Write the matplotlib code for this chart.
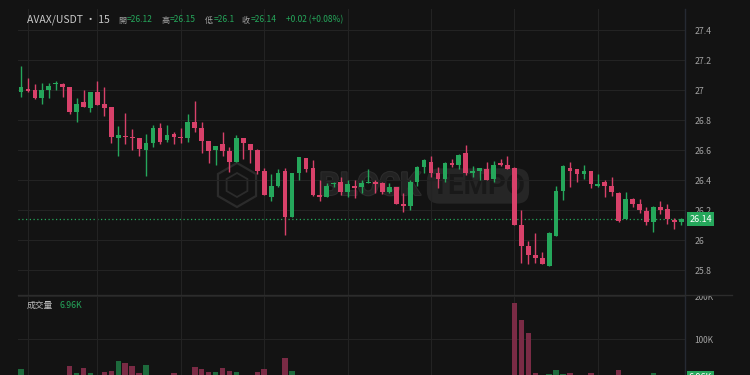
import matplotlib
matplotlib.use("Agg")
import matplotlib.pyplot as plt
import matplotlib.patheffects as pe
from matplotlib.lines import Line2D
from matplotlib.patches import Rectangle, RegularPolygon
import numpy as np

plt.rcParams["font.family"] = ["Noto Sans CJK TC", "DejaVu Sans"]

# 15 minute candles, AVAX/USDT
opens = [26.99, 27.005, 27.00, 26.95, 26.998, 27.04, 27.04, 27.018, 26.856, 26.918,
         26.878, 26.989, 26.907, 26.889, 26.678, 26.692, 26.69, 26.678, 26.60, 26.649,
         26.749, 26.667, 26.709, 26.689, 26.682, 26.789, 26.749, 26.658, 26.60, 26.638,
         26.591, 26.518, 26.678, 26.64, 26.60, 26.46, 26.289, 26.36, 26.46, 26.151,
         26.449, 26.549, 26.478, 26.30, 26.289, 26.373, 26.389, 26.318, 26.36, 26.351,
         26.382, 26.384, 26.382, 26.318, 26.351, 26.24, 26.229, 26.389, 26.489, 26.518,
         26.449, 26.407, 26.511, 26.50, 26.578, 26.449, 26.46, 26.471, 26.404, 26.511,
         26.50, 26.482, 26.10, 25.962, 25.90, 25.882, 25.829, 26.029, 26.329, 26.482,
         26.471, 26.438, 26.462, 26.362, 26.384, 26.36, 26.311, 26.14, 26.273, 26.24,
         26.193, 26.122, 26.222, 26.207, 26.133, 26.12]
highs = [27.16, 27.08, 27.04, 27.05, 27.05, 27.06, 27.05, 27.02, 26.95, 27.00,
         26.99, 27.06, 27.018, 26.889, 26.76, 26.85, 26.74, 26.678, 26.71, 26.767,
         26.78, 26.767, 26.72, 26.749, 26.84, 26.929, 26.789, 26.658, 26.629, 26.718,
         26.62, 26.70, 26.678, 26.64, 26.604, 26.478, 26.438, 26.471, 26.478, 26.449,
         26.556, 26.549, 26.533, 26.40, 26.378, 26.389, 26.422, 26.40, 26.40, 26.40,
         26.471, 26.40, 26.389, 26.382, 26.351, 26.311, 26.40, 26.493, 26.538, 26.56,
         26.484, 26.518, 26.538, 26.573, 26.633, 26.493, 26.482, 26.518, 26.529, 26.538,
         26.56, 26.489, 26.20, 25.996, 26.044, 25.922, 26.056, 26.36, 26.50, 26.518,
         26.471, 26.50, 26.462, 26.44, 26.40, 26.422, 26.318, 26.322, 26.278, 26.273,
         26.222, 26.229, 26.26, 26.24, 26.149, 26.15]
lows = [26.956, 26.99, 26.94, 26.91, 26.95, 27.00, 26.955, 26.84, 26.79, 26.889,
        26.856, 26.898, 26.83, 26.649, 26.56, 26.64, 26.60, 26.56, 26.43, 26.618,
        26.64, 26.656, 26.64, 26.644, 26.656, 26.718, 26.582, 26.511, 26.50, 26.56,
        26.451, 26.518, 26.538, 26.511, 26.44, 26.30, 26.262, 26.356, 26.033, 26.151,
        26.40, 26.456, 26.293, 26.262, 26.284, 26.356, 26.30, 26.289, 26.278, 26.311,
        26.38, 26.311, 26.307, 26.311, 26.24, 26.189, 26.20, 26.36, 26.444, 26.422,
        26.344, 26.389, 26.484, 26.471, 26.433, 26.422, 26.40, 26.40, 26.389, 26.493,
        26.471, 26.10, 25.849, 25.84, 25.849, 25.838, 25.829, 26.029, 26.267, 26.351,
        26.389, 26.407, 26.349, 26.351, 26.289, 26.296, 26.122, 26.14, 26.222, 26.178,
        26.10, 26.056, 26.171, 26.107, 26.071, 26.10]
closes = [27.018, 26.995, 26.95, 27.00, 27.027, 27.045, 27.018, 26.853, 26.91, 26.889,
          26.989, 26.898, 26.878, 26.689, 26.698, 26.69, 26.68, 26.607, 26.649, 26.749,
          26.656, 26.70, 26.689, 26.678, 26.789, 26.749, 26.658, 26.591, 26.629, 26.591,
          26.518, 26.678, 26.649, 26.60, 26.462, 26.30, 26.36, 26.449, 26.151, 26.449,
          26.556, 26.471, 26.30, 26.289, 26.36, 26.382, 26.322, 26.371, 26.349, 26.382,
          26.389, 26.373, 26.318, 26.351, 26.24, 26.229, 26.389, 26.489, 26.533, 26.449,
          26.407, 26.511, 26.50, 26.567, 26.449, 26.46, 26.482, 26.40, 26.50, 26.50,
          26.471, 26.10, 25.962, 25.90, 25.878, 25.838, 26.044, 26.329, 26.493, 26.46,
          26.438, 26.46, 26.371, 26.373, 26.36, 26.318, 26.127, 26.273, 26.24, 26.20,
          26.122, 26.222, 26.20, 26.14, 26.122, 26.14]
# volume in thousands
volumes = [29.5, 10, 12, 9, 8, 6, 9, 37, 21.7, 32.6,
           21.7, 14, 22.5, 26.4, 48.8, 43.4, 37.2, 20.2, 38.8, 12,
           14, 10, 20.2, 9, 13, 35.7, 30.2, 22.5, 22.5, 32.6,
           26.4, 22.5, 12, 14, 22.5, 30.2, 15, 12, 55, 25.6,
           14, 10, 15, 9, 8, 6, 9, 8, 7, 6,
           8, 5, 9, 6, 13, 10, 14, 12, 9, 10,
           8, 11, 6, 9, 13, 6, 5, 8, 10, 5,
           7, 184, 144, 114, 21.7, 14, 18.6, 27.1, 18.6, 21.7,
           12, 10, 21.7, 8, 11, 13, 27.1, 15, 9, 12,
           14, 21.7, 10, 13, 8, 6.96]

price_ticks = [25.8, 26.0, 26.2, 26.4, 26.6, 26.8, 27.0, 27.2, 27.4]
vol_ticks = [100, 200]
time_grid = [1, 11, 23, 35, 47, 59, 71, 83]
last_price = 26.14
last_volume = "6.96K"

BG = "#131313"
GRID = "#232323"
UP = "#25a75b"
DOWN = "#d8416a"
UP_VOL = "#1d6a3c"
DOWN_VOL = "#7a2b45"
TXT = "#a3a3a3"

W, H = 750, 375


def fx(px):
    return px / W


def fy(py):
    return 1 - py / H


fig = plt.figure(figsize=(7.5, 3.75), dpi=100, facecolor=BG)

x = np.arange(len(opens))
o = np.array(opens)
c = np.array(closes)
up = c >= o
xlim = (-0.43, 95.47)

# volume panel (added first so the price panel can sit on top)
axv = fig.add_axes([fx(18), fy(382), (684.5 - 18) / W, (382 - 294.5) / H])
axv.set_facecolor(BG)
axv.bar(x, volumes, width=0.8, color=np.where(up, UP_VOL, DOWN_VOL), zorder=2)
axv.set_xlim(*xlim)
axv.set_ylim(0, 203.5)
axv.set_xticks(time_grid)
axv.set_yticks(vol_ticks)
axv.set_yticklabels(["%dK" % v for v in vol_ticks])
axv.yaxis.tick_right()
axv.tick_params(axis="y", length=0, pad=7, labelsize=6, labelcolor=TXT)
axv.tick_params(axis="x", length=0, labelbottom=False)
axv.grid(True, color=GRID, lw=0.8, zorder=0)
for s in axv.spines.values():
    s.set_visible(False)

# cover so the top of "200K" is hidden like in the original
fig.add_artist(Rectangle((0, fy(294.5)), 1, 1 - fy(294.5), transform=fig.transFigure,
                         facecolor=BG, edgecolor="none", zorder=0.5))

# price panel
ax = fig.add_axes([fx(18), fy(294.5), (684.5 - 18) / W, (294.5 - 9) / H])
ax.set_zorder(1)
ax.set_facecolor(BG)

# faint watermark behind the candles
wm = ["Roboto", "DejaVu Sans"]
logo_xy = (2.37, (H - 185) / 100)
for r, lw in [(0.22, 1.6), (0.12, 1.3)]:
    ax.add_patch(RegularPolygon(logo_xy, 6, radius=r, transform=fig.dpi_scale_trans,
                                fill=False, ec="#2b2b2b", lw=lw, zorder=1))
ax.text(fx(370), fy(186), "BLOCK", transform=fig.transFigure, fontsize=23, fontweight="bold",
        family=wm, color="#222222", ha="center", va="center", zorder=1,
        path_effects=[pe.withStroke(linewidth=1.5, foreground="#2d2d2d")])
ax.text(fx(478), fy(186), "TEMPO", transform=fig.transFigure, fontsize=20, fontweight="bold",
        family=wm, color="#191919", ha="center", va="center", zorder=1,
        bbox=dict(boxstyle="round,pad=0.15,rounding_size=0.45", fc="#262626", ec="none"))

body_lo = np.minimum(o, c)
body_h = np.maximum(np.abs(c - o), 0.004)
colors = np.where(up, UP, DOWN)
ax.vlines(x, lows, highs, colors=colors, lw=1, zorder=2)
ax.bar(x, body_h, bottom=body_lo, width=0.68, color=colors, zorder=3)
ax.axhline(last_price, color=UP, lw=0.9, ls=(0, (1, 2)), zorder=1.5)
ax.set_xlim(*xlim)
ax.set_ylim(25.637, 27.54)
ax.set_xticks(time_grid)
ax.set_yticks(price_ticks)
ax.set_yticklabels(["%g" % t for t in price_ticks])
ax.yaxis.tick_right()
ax.tick_params(axis="y", length=0, pad=7, labelsize=6.3, labelcolor=TXT)
ax.tick_params(axis="x", length=0, labelbottom=False)
ax.grid(True, color=GRID, lw=0.8, zorder=0)
for s in ax.spines.values():
    s.set_visible(False)

# axis lines
fig.add_artist(Line2D([fx(684.5), fx(684.5)], [fy(9), 0], color="#262a33", lw=1, zorder=2))
fig.add_artist(Line2D([fx(18), fx(732)], [fy(294.5), fy(294.5)], color="#2c2c2c", lw=1, zorder=2))

# last price / last volume tags
fig.text(fx(700.5), fy(219), "%.2f" % last_price, fontsize=6.5, color="white", ha="center", va="center",
         zorder=3, bbox=dict(boxstyle="square,pad=0.25", fc=UP, ec="none"))
fig.text(fx(700.5), fy(378), last_volume, fontsize=6.5, color="white", ha="center", va="center",
         zorder=3, bbox=dict(boxstyle="square,pad=0.25", fc=UP, ec="none"))

# header
fig.text(fx(27), fy(20), "AVAX/USDT · 15", fontsize=7.5, color="#c9c9c9", va="center")
header = [(118, "開", "=26.12"), (161, "高", "=26.15"), (205, "低", "=26.1"), (242, "收", "=26.14")]
for px, lab, val in header:
    fig.text(fx(px), fy(20), lab, fontsize=5.8, color=TXT, va="center")
    fig.text(fx(px + 8.5), fy(20), val, fontsize=6.1, color=UP, va="center")
fig.text(fx(286), fy(20), "+0.02 (+0.08%)", fontsize=6.1, color=UP, va="center")

fig.text(fx(27), fy(305), "成交量", fontsize=6.3, color="#bdbdbd", va="center")
fig.text(fx(59), fy(305), last_volume, fontsize=6.3, color=UP, va="center")

plt.savefig("out.png", dpi=100, facecolor=BG)
